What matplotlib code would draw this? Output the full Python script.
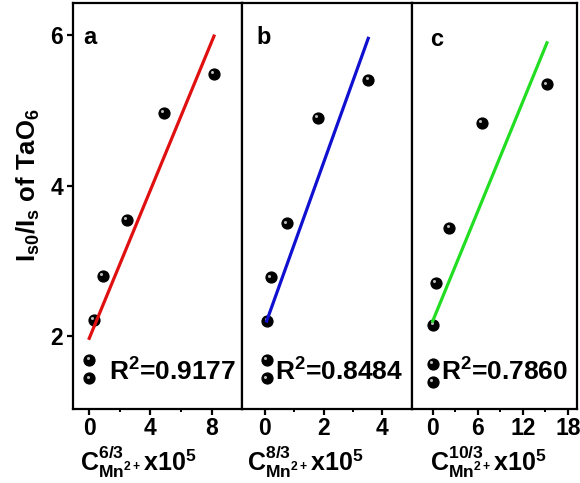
import numpy as np
import matplotlib
matplotlib.use("Agg")
import matplotlib.pyplot as plt
from matplotlib.transforms import offset_copy

plt.rcParams['font.family'] = ['Liberation Sans', 'DejaVu Sans']
plt.rcParams['font.weight'] = 'bold'
plt.rcParams['mathtext.fontset'] = 'custom'
plt.rcParams['mathtext.rm'] = 'Liberation Sans:bold'
plt.rcParams['mathtext.bf'] = 'Liberation Sans:bold'
plt.rcParams['mathtext.it'] = 'Liberation Sans:bold'
plt.rcParams['mathtext.default'] = 'bf'

# data
x_a = [0, 0, 0.3, 0.9, 2.46, 4.88, 8.15]
y_a = [1.44, 1.68, 2.22, 2.80, 3.55, 4.97, 5.49]
fit_a_x = [0, 8.15]
fit_a_y = [1.97, 5.99]

x_b = [0.06, 0.06, 0.08, 0.2, 0.75, 1.8, 3.52]
y_b = [1.44, 1.68, 2.20, 2.78, 3.50, 4.90, 5.41]
fit_b_x = [0.06, 3.52]
fit_b_y = [2.20, 5.96]

x_c = [0, 0, 0.1, 0.4, 2.2, 6.5, 15.2]
y_c = [1.39, 1.63, 2.15, 2.71, 3.44, 4.84, 5.35]
fit_c_x = [0, 15.2]
fit_c_y = [2.20, 5.90]

letters = ['a', 'b', 'c']
r2_labels = ['R$^2$=0.9177', 'R$^2$=0.8484', 'R$^2$=0.7860']
xlabels = [r'C$^{6/3}_{Mn^{2+}}$x10$^5$', r'C$^{8/3}_{Mn^{2+}}$x10$^5$',
           r'C$^{10/3}_{Mn^{2+}}$x10$^5$']
fit_colors = ['#e01010', '#1010d0', '#22dd22']
xlims = [(-1.08, 9.98), (-0.78, 5.01), (-2.76, 19.2)]
xticks = [[0, 4, 8], [0, 2, 4], [0, 6, 12, 18]]
xminor = [[2, 6], [1, 3], [3, 9, 15]]

fig = plt.figure(figsize=(5.8, 4.83), dpi=100)
H = 483.0
W = 580.0
boxes = [(72.7, 242), (242, 412), (412, 577)]
top, bot = 3, 409
axs = []
for (l, r) in boxes:
    ax = fig.add_axes([l / W, 1 - bot / H, (r - l) / W, (bot - top) / H])
    axs.append(ax)

xs = [x_a, x_b, x_c]
ys = [y_a, y_b, y_c]
fxs = [fit_a_x, fit_b_x, fit_c_x]
fys = [fit_a_y, fit_b_y, fit_c_y]
letter_pos = [(0.061, 0.914), (0.088, 0.914), (0.109, 0.91)]
r2_right = [0.968, 0.95, 0.948]
lab_x = [0.39, 0.37, 0.46]

for i, ax in enumerate(axs):
    ax.plot(xs[i], ys[i], 'o', color='black', ms=7.8, mec='black', zorder=2)
    hl = offset_copy(ax.transData, fig=fig, x=-1.2, y=1.2, units='points')
    ax.plot(xs[i], ys[i], 'o', color='#bbbbbb', ms=2.2, mew=0,
            transform=hl, zorder=2.5)
    ax.plot(fxs[i], fys[i], '-', color=fit_colors[i], lw=2.3, zorder=3)
    ax.set_xlim(*xlims[i])
    ax.set_ylim(1.03, 6.43)
    ax.set_xticks(xticks[i])
    ax.set_xticks(xminor[i], minor=True)
    ax.tick_params(axis='x', which='major', direction='out', length=4, width=1.6,
                   labelsize=16.5, pad=2)
    ax.tick_params(axis='x', which='minor', direction='out', length=2.5, width=1.4)
    for s in ax.spines.values():
        s.set_linewidth(1.6)
    if i == 0:
        ax.set_yticks([2, 4, 6])
        ax.tick_params(axis='y', direction='out', length=4, width=1.6,
                       labelsize=16.5, pad=3)
    else:
        ax.set_yticks([])
    for lb in ax.get_xticklabels() + ax.get_yticklabels():
        lb.set_fontweight('bold')
    ax.text(letter_pos[i][0], letter_pos[i][1], letters[i], transform=ax.transAxes,
            fontsize=17, fontweight='bold', ha='left', va='center')
    ax.text(r2_right[i], 0.09, r2_labels[i], transform=ax.transAxes, fontsize=19,
            fontweight='bold', ha='right', va='center')
    ax.set_xlabel(xlabels[i], fontsize=18, fontweight='bold')
    ax.xaxis.set_label_coords(lab_x[i], -0.083)

fig.text(28 / W, 1 - 185 / H, r'I$_{s0}$/I$_s$ of TaO$_6$', rotation=90,
         ha='center', va='center', fontsize=18.5, fontweight='bold')

fig.savefig('out.png', dpi=100)
